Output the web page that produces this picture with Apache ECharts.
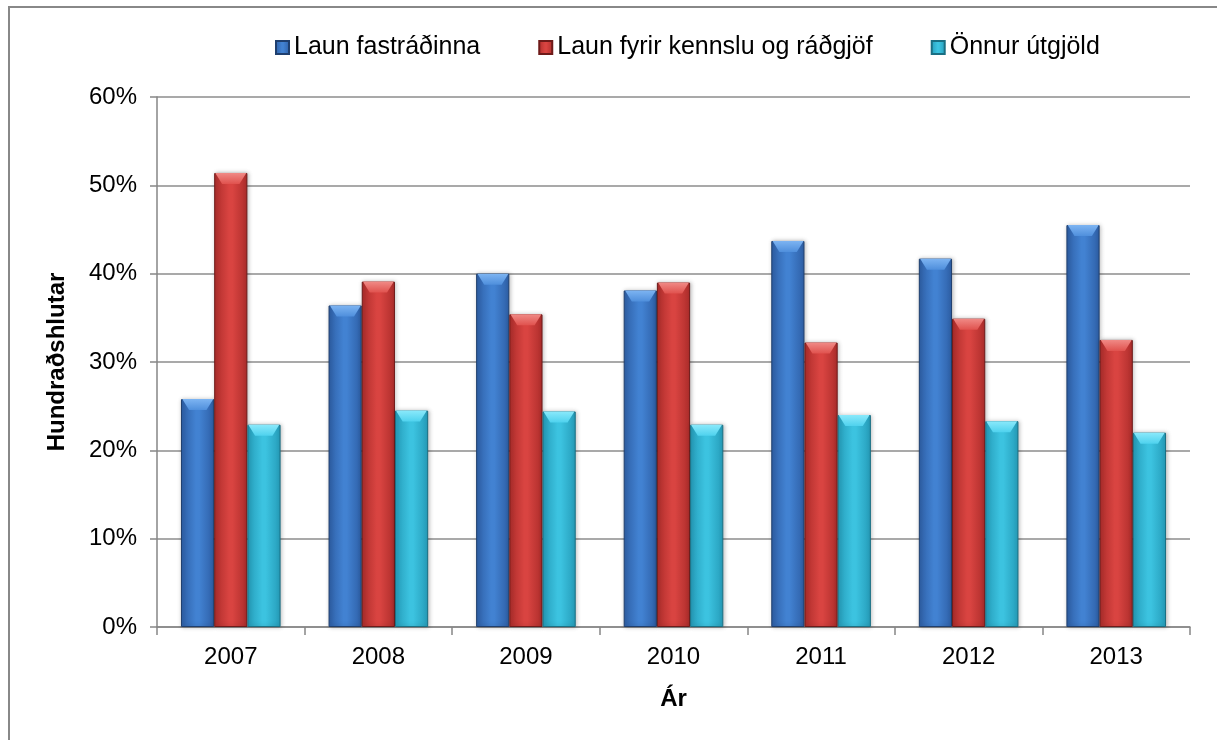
<!DOCTYPE html>
<html>
<head>
<meta charset="utf-8">
<script src="https://cdn.jsdelivr.net/npm/echarts@6/dist/echarts.min.js"></script>
<style>
  html, body { margin: 0; padding: 0; background: #fff; }
  #chart { width: 1217px; height: 740px; }
</style>
</head>
<body>
<div id="chart"></div>
<script>
// data (percent)
const years = ["2007", "2008", "2009", "2010", "2011", "2012", "2013"];
const seriesNames = ["Laun fastráðinna", "Laun fyrir kennslu og ráðgjöf", "Önnur útgjöld"];
const fastradinna = [25.8, 36.4, 40.0, 38.1, 43.7, 41.7, 45.5];
const kennsla = [51.4, 39.1, 35.4, 39.0, 32.2, 34.9, 32.5];
const onnur = [22.9, 24.5, 24.4, 22.9, 24.0, 23.3, 22.0];
const yTicks = [0, 10, 20, 30, 40, 50, 60];

const FONT = "Liberation Sans, Arial, sans-serif";
const BAR_W = 33;

// horizontal shading: darker edges, lighter middle
function shade(edge, mid) {
  return new echarts.graphic.LinearGradient(0, 0, 1, 0, [
    { offset: 0, color: edge },
    { offset: 0.45, color: mid },
    { offset: 0.55, color: mid },
    { offset: 1, color: edge }
  ]);
}

const palette = [
  { fill: shade("#2e5fa6", "#4282d2"), border: "#1f3f6e", top: ["#7db4f2", "#4f8fdc"] },
  { fill: shade("#ad2d2b", "#d94441"), border: "#6e1a19", top: ["#f08a86", "#e0524e"] },
  { fill: shade("#259cb9", "#3cc3e0"), border: "#1a6f83", top: ["#8ae9fb", "#4fd2ee"] }
];

function barSeries(name, data, i) {
  return {
    name: name,
    type: "bar",
    data: data,
    barGap: "0%",
    barCategoryGap: "32.5%",
    itemStyle: {
      color: palette[i].fill,
      borderColor: palette[i].border,
      borderWidth: 1,
      shadowColor: "rgba(0,0,0,0.25)",
      shadowBlur: 4,
      shadowOffsetX: 1
    }
  };
}

// lighter bevel on top of each bar
function bevelSeries(name, data, i) {
  return {
    name: name,
    type: "pictorialBar",
    data: data,
    symbol: "path://M0,0 L100,0 L78,100 L22,100 Z",
    symbolSize: [BAR_W - 2, 11],
    symbolPosition: "end",
    symbolOffset: [(i - 1) * BAR_W, 0],
    symbolKeepAspect: false,
    silent: true,
    z: 3,
    itemStyle: {
      color: new echarts.graphic.LinearGradient(0, 0, 0, 1, [
        { offset: 0, color: palette[i].top[0] },
        { offset: 1, color: palette[i].top[1] }
      ])
    }
  };
}

let myChart = echarts.init(document.getElementById("chart"));
let option;

option = {
  backgroundColor: "#fff",
  animation: false,
  textStyle: { fontFamily: FONT },
  graphic: [
    {
      type: "rect",
      shape: { x: 9, y: 7, width: 1230, height: 760 },
      style: { fill: "none", stroke: "#888", lineWidth: 2 },
      silent: true
    }
  ],
  legend: {
    top: 30,
    left: 270,
    itemWidth: 13,
    itemHeight: 13,
    itemGap: 58,
    icon: "rect",
    textStyle: { fontSize: 25, color: "#000", fontFamily: FONT },
    data: seriesNames
  },
  grid: { left: 157, right: 27, top: 97, bottom: 113 },
  xAxis: {
    type: "category",
    data: years,
    name: "Ár",
    nameLocation: "middle",
    nameGap: 60,
    nameTextStyle: { fontSize: 24, fontWeight: "bold", color: "#000", fontFamily: FONT },
    axisLine: { lineStyle: { color: "#868686", width: 1.5 } },
    axisTick: { show: true, length: 8, lineStyle: { color: "#868686", width: 1.5 } },
    axisLabel: { fontSize: 24, color: "#000", margin: 18, fontFamily: FONT }
  },
  yAxis: {
    type: "value",
    min: yTicks[0],
    max: yTicks[yTicks.length - 1],
    interval: 10,
    name: "Hundraðshlutar",
    nameLocation: "middle",
    nameGap: 88,
    nameRotate: 90,
    nameTextStyle: { fontSize: 24, fontWeight: "bold", color: "#000", fontFamily: FONT },
    axisLine: { show: true, lineStyle: { color: "#868686", width: 1.5 } },
    axisTick: { show: true, length: 7, lineStyle: { color: "#868686", width: 1.5 } },
    axisLabel: { fontSize: 24, color: "#000", margin: 20, formatter: "{value}%", fontFamily: FONT },
    splitLine: { lineStyle: { color: "#8c8c8c", width: 1.5 } }
  },
  series: [
    barSeries(seriesNames[0], fastradinna, 0),
    barSeries(seriesNames[1], kennsla, 1),
    barSeries(seriesNames[2], onnur, 2),
    bevelSeries(seriesNames[0], fastradinna, 0),
    bevelSeries(seriesNames[1], kennsla, 1),
    bevelSeries(seriesNames[2], onnur, 2)
  ]
};

myChart.setOption(option);
</script>
</body>
</html>
